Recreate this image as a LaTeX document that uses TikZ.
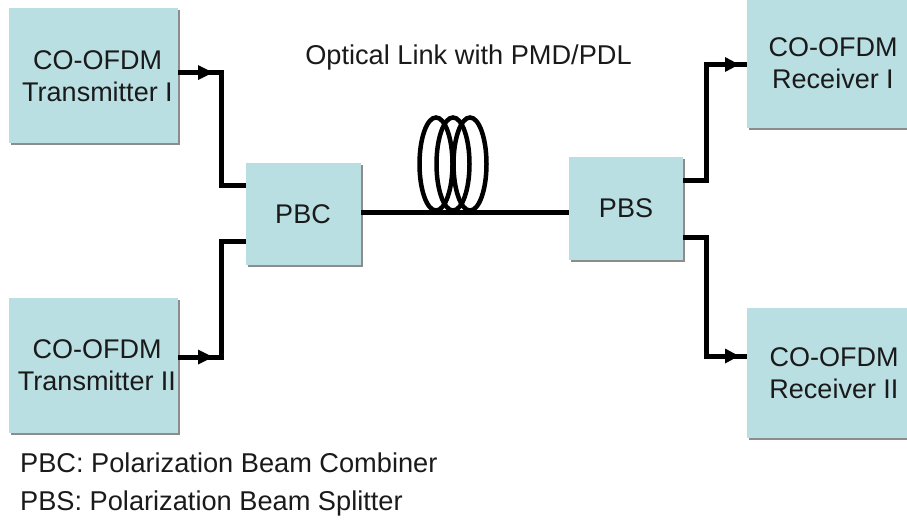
\documentclass[tikz,border=0pt]{standalone}
\usepackage{fontspec}
\setmainfont{Liberation Sans}
\usetikzlibrary{arrows.meta,shadows,shapes.geometric}
\definecolor{boxfill}{HTML}{B9DFE3}
\definecolor{ink}{HTML}{1A1A1A}
\tikzset{
  x=1pt,y=-1pt,
  blockbox/.style={fill=boxfill,draw=none,anchor=north west,inner sep=0pt,
    drop shadow={shadow xshift=1.5pt,shadow yshift=-1.5pt,fill=black!45,opacity=1}},
  boxtext/.style={font=\fontsize{27}{32.5}\selectfont,text=ink,align=center,inner sep=0pt},
  wire/.style={line width=5pt,draw=black},
  fibre/.style={line width=5pt,draw=black},
  loop/.style={draw=black,line width=4.5pt,ellipse,minimum width=33pt,minimum height=93pt,inner sep=0pt},
  plaintext/.style={anchor=west,inner sep=0pt,text=ink,font=\fontsize{27.2}{32}\selectfont},
}
\begin{document}
\begin{tikzpicture}
\useasboundingbox (0,0) rectangle (907,520);
\node[blockbox,minimum width=169pt,minimum height=135pt] (tx1) at (9,8) {};
\node[blockbox,minimum width=169pt,minimum height=135pt] (tx2) at (9,298) {};
\node[blockbox,minimum width=115pt,minimum height=102pt] (pbc) at (246,163) {};
\node[blockbox,minimum width=114pt,minimum height=103pt] (pbs) at (569,157) {};
\node[blockbox,minimum width=165pt,minimum height=128pt] (rx1) at (747,0) {};
\node[blockbox,minimum width=165pt,minimum height=130pt] (rx2) at (747,308) {};

\node[boxtext] (tx1t) at (97.5,76) {CO-OFDM\\Transmitter I};
\node[boxtext] (tx2t) at (97,365) {CO-OFDM\\Transmitter II};
\node[boxtext] (pbct) at (303,214) {PBC};
\node[boxtext] (pbst) at (626,208.5) {PBS};
\node[boxtext] (rx1t) at (833,63) {CO-OFDM\\Receiver I};
\node[boxtext] (rx2t) at (834,373) {CO-OFDM\\Receiver II};

\node[inner sep=0pt,text=ink,font=\fontsize{27.2}{32}\selectfont] (link) at (468.5,57) {Optical Link with PMD/PDL};
\node[plaintext] (leg1) at (20,463) {PBC: Polarization Beam Combiner};
\node[plaintext] (leg2) at (20,503) {PBS: Polarization Beam Splitter};

% coil
\node[loop] (c1) at (436,164) {};
\node[loop] (c2) at (453,164) {};
\node[loop] (c3) at (470,164) {};

% points on the connectors
\coordinate (a1) at (213,72.5);
\coordinate (a2) at (213,357);
\coordinate (a3) at (739,64.5);
\coordinate (a4) at (739,356);
\coordinate (j1) at (221.5,72.5);
\coordinate (j2) at (221.5,357);
\coordinate (k1) at (706.5,64.5);
\coordinate (k2) at (706.5,356);
\coordinate (p1) at (246,185.5);
\coordinate (p2) at (246,241);
\coordinate (p3) at (683,180.5);
\coordinate (p4) at (683,237);
\coordinate (f1) at (361,212);
\coordinate (f2) at (569,212);
\coordinate (t1) at (178,72.5);
\coordinate (t2) at (178,357);
\coordinate (r1) at (747,64.5);
\coordinate (r2) at (747,356);

\draw[wire] (t1) -- (j1) |- (p1);
\draw[wire] (t2) -- (j2) |- (p2);
\draw[fibre] (f1) -- (f2);
\draw[wire] (p3) -| (k1) -- (r1);
\draw[wire] (p4) -| (k2) -- (r2);

\fill[black] (198,65) -- (a1) -- (198,80) -- cycle;
\fill[black] (198,349.5) -- (a2) -- (198,364.5) -- cycle;
\fill[black] (725,57) -- (a3) -- (725,72) -- cycle;
\fill[black] (725,348.5) -- (a4) -- (725,363.5) -- cycle;
\end{tikzpicture}
\end{document}
